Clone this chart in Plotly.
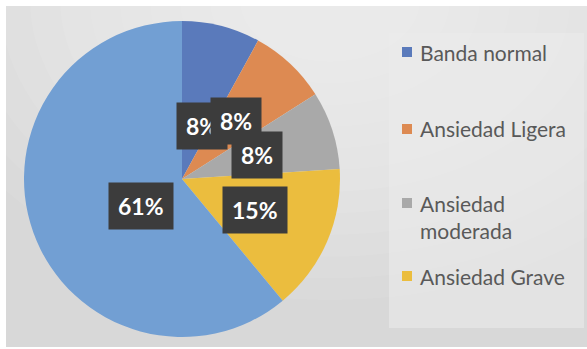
import math
import plotly.graph_objects as go

# ---- data ----
labels = ["Banda normal", "Ansiedad Ligera", "Ansiedad moderada", "Ansiedad Grave", "Otros"]
values = [8, 8, 8, 15, 61]
pct_text = ["8%", "8%", "8%", "15%", "61%"]
colors = ["#5a7abb", "#dd8a52", "#a9a9a9", "#ebbd3e", "#729fd3"]
legend_labels = ["Banda normal", "Ansiedad Ligera", "Ansiedad<br>moderada", "Ansiedad Grave"]

W, H = 587, 349
cx, cy, R = 182, 179, 158  # pie centre / radius in px

fig = go.Figure()
fig.add_trace(go.Pie(
    labels=labels, values=values, sort=False, direction="clockwise", rotation=0,
    marker=dict(colors=colors, line=dict(width=0)),
    textinfo="none", hoverinfo="label+percent", showlegend=False,
    domain=dict(x=[(cx - R) / W, (cx + R) / W], y=[1 - (cy + R) / H, 1 - (cy - R) / H]),
))

shapes = []
# background area
shapes.append(dict(type="rect", xref="paper", yref="paper", x0=6 / W, x1=1, y0=2 / H, y1=1 - 6 / H,
                   fillcolor="#d8d8d8", line=dict(width=0), layer="below"))
# soft light glow toward the top centre
n = 12
for i in range(n):
    f = 1 - i / n
    rx, ry = 60 + 360 * f, 40 + 260 * f
    shapes.append(dict(type="circle", xref="paper", yref="paper",
                       x0=(330 - rx) / W, x1=(330 + rx) / W, y0=1 - (0 + ry) / H, y1=1 - (0 - ry) / H,
                       fillcolor="white", opacity=0.07, line=dict(width=0), layer="below"))
# legend panel
shapes.append(dict(type="rect", xref="paper", yref="paper", x0=389 / W, x1=584 / W,
                   y0=1 - 328 / H, y1=1 - 33 / H, fillcolor="#ebebeb", opacity=0.6,
                   line=dict(width=0), layer="below"))

annotations = []
# data labels placed at half radius on the slice mid-angle
total = sum(values)
cum = 0
for v, t in zip(values, pct_text):
    mid = (cum + v / 2) / total * 2 * math.pi
    cum += v
    px = cx + 0.5 * R * math.sin(mid)
    py = cy - 0.5 * R * math.cos(mid)
    annotations.append(dict(x=px / W, y=1 - py / H, xref="paper", yref="paper",
                            text="<b>%s</b>" % t, showarrow=False,
                            font=dict(family="Lato", size=23, color="white"),
                            bgcolor="#3c3c3c", borderpad=9))

# legend (manual, only four entries as in the original)
leg_y = [52, 129, 217, 276]
for lab, col, ly in zip(legend_labels, colors, leg_y):
    my = ly - 14 if "<br>" in lab else ly
    shapes.append(dict(type="rect", xref="paper", yref="paper",
                       x0=402 / W, x1=412 / W, y0=1 - (my + 5) / H, y1=1 - (my - 5) / H,
                       fillcolor=col, line=dict(width=0)))
    annotations.append(dict(x=418 / W, y=1 - ly / H, xref="paper", yref="paper", xanchor="left",
                            yanchor="middle", align="left", text=lab, showarrow=False,
                            font=dict(family="Lato", size=21, color="#595959")))

fig.update_layout(
    width=W, height=H, margin=dict(l=0, r=0, t=0, b=0),
    paper_bgcolor="white", plot_bgcolor="white",
    shapes=shapes, annotations=annotations, showlegend=False,
)
fig.write_html("out.html", config={"displayModeBar": False},
               post_script="document.body.style.margin='0';")
